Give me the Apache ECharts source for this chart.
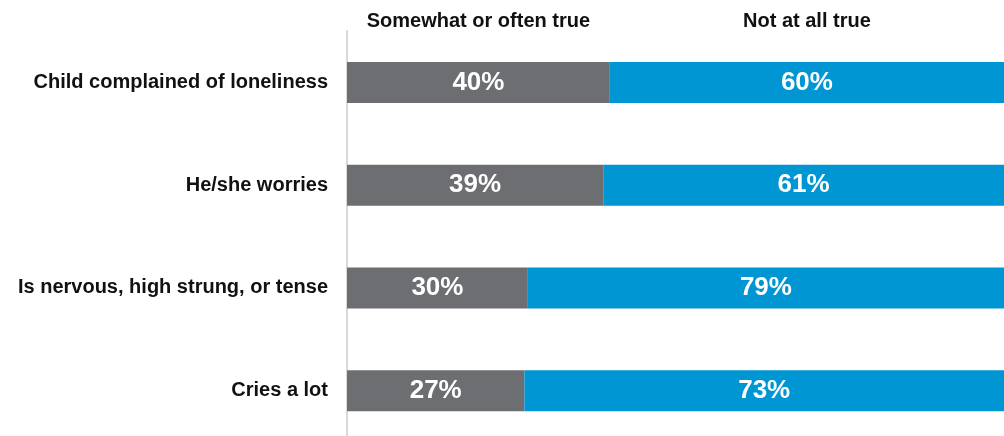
<!DOCTYPE html>
<html><head><meta charset="utf-8">
<script src="https://cdn.jsdelivr.net/npm/echarts@6/dist/echarts.min.js"></script>
<style>html,body{margin:0;padding:0;background:#fff}#c{width:1004px;height:436px}</style>
</head><body><div id="c"></div>
<script>
const categories = ["Child complained of loneliness", "He/she worries", "Is nervous, high strung, or tense", "Cries a lot"];
const seriesNames = ["Somewhat or often true", "Not at all true"];
const somewhatValues = [40, 39, 30, 27];
const notAtAllValues = [60, 61, 79, 73];

const totals = somewhatValues.map((v, i) => v + notAtAllValues[i]);
const share = (arr) => arr.map((v, i) => ({ value: v / totals[i] * 100, raw: v }));

const chart = echarts.init(document.getElementById('c'), null, { renderer: 'canvas' });
const labelStyle = {
  show: true, position: 'inside', color: '#fff', fontFamily: 'Liberation Sans, Arial, sans-serif',
  fontWeight: 'bold', fontSize: 26, formatter: p => p.data.raw + '%'
};
chart.setOption({
  animation: false,
  backgroundColor: '#fff',
  grid: { left: 347, right: 0, top: 31, height: 411, containLabel: false, outerBoundsMode: 'none' },
  xAxis: { type: 'value', min: 0, max: 100, show: false },
  yAxis: {
    type: 'category', data: categories, inverse: true,
    axisLine: { show: true, lineStyle: { color: '#d9d9d9', width: 2 } },
    axisTick: { show: false },
    axisLabel: { color: '#111', fontFamily: 'Liberation Sans, Arial, sans-serif', fontWeight: 'bold', fontSize: 20, margin: 19 }
  },
  series: [
    { name: seriesNames[0], type: 'bar', stack: 's', barWidth: 41, data: share(somewhatValues),
      itemStyle: { color: '#6d6e71' }, label: labelStyle },
    { name: seriesNames[1], type: 'bar', stack: 's', barWidth: 41, data: share(notAtAllValues),
      itemStyle: { color: '#0095d3' }, label: labelStyle }
  ]
});

// Column headers centred above the first row's segments
const s0 = share(somewhatValues)[0].value;
const p0 = chart.convertToPixel({ gridIndex: 0 }, [0, 0]);
const p1 = chart.convertToPixel({ gridIndex: 0 }, [s0, 0]);
const p2 = chart.convertToPixel({ gridIndex: 0 }, [100, 0]);
const headerStyle = { fill: '#111', font: 'bold 20px "Liberation Sans", Arial, sans-serif', textAlign: 'center', textVerticalAlign: 'middle' };
chart.setOption({
  graphic: [
    { type: 'text', x: (p0[0] + p1[0]) / 2, y: 21, style: Object.assign({ text: seriesNames[0] }, headerStyle) },
    { type: 'text', x: (p1[0] + p2[0]) / 2, y: 21, style: Object.assign({ text: seriesNames[1] }, headerStyle) }
  ]
});
</script></body></html>
